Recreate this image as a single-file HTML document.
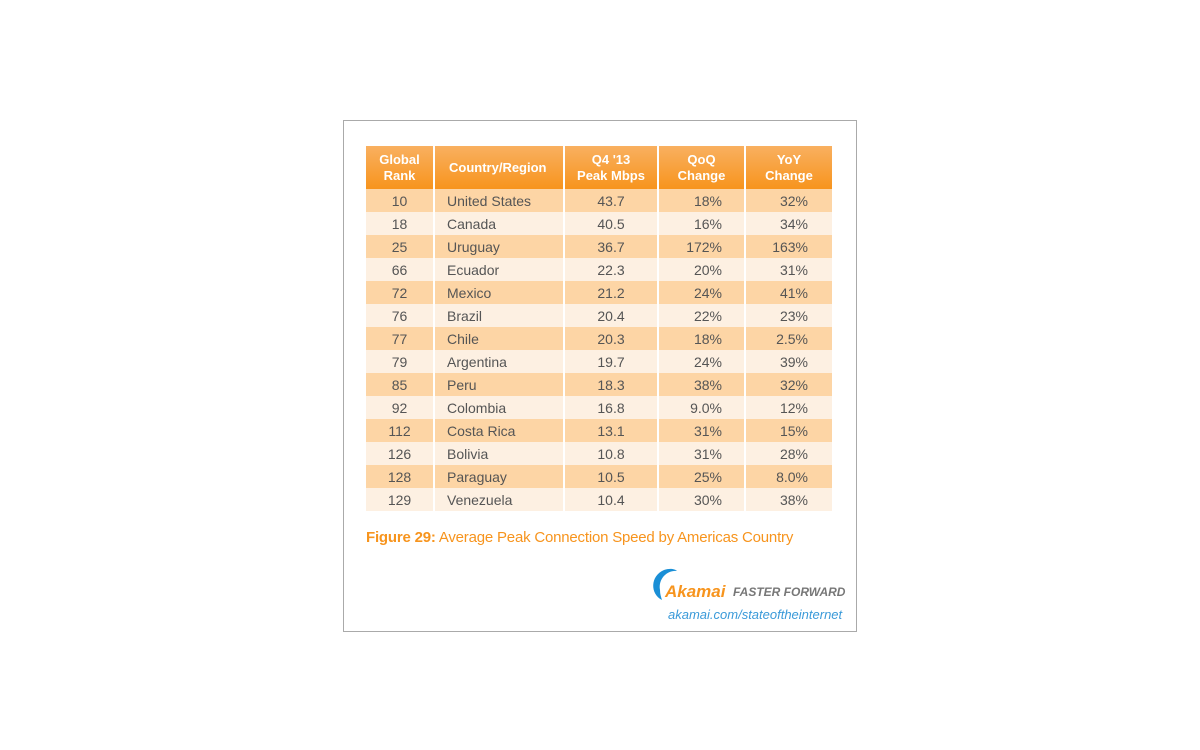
<!DOCTYPE html>
<html><head><style>
body{margin:0;width:1200px;height:750px;background:#fff;position:relative;font-family:"Liberation Sans",sans-serif;}
.frame{position:absolute;left:343px;top:120px;width:512px;height:510px;border:1px solid #aaa;}
table{position:absolute;left:366px;top:146px;border-collapse:collapse;table-layout:fixed;width:466px;}
td,th{padding:0;height:23px;font-size:14px;color:#555;border-left:2px solid #fff;box-sizing:border-box;}
td:first-child,th:first-child{border-left:0;}
th{height:43px;color:#fff;font-weight:bold;font-size:13px;line-height:16px;background:linear-gradient(#f9b060,#f7941d);text-align:center;}
tr.o td{background:#fdd5a5;}
tr.e td{background:#fdf0e2;}
.c1{text-align:center;}
.c2{text-align:left;padding-left:12px;}
.c3{text-align:center;}
.c4{text-align:right;padding-right:22px;}
.c5{text-align:right;padding-right:24px;}
.cap{position:absolute;left:366px;top:529px;font-size:15px;color:#f7941d;letter-spacing:-0.2px;}
.logo{position:absolute;left:665px;top:582px;font-size:17px;font-weight:bold;font-style:italic;color:#f7941d;}
.ff{position:absolute;left:733px;top:585px;font-size:12px;font-weight:bold;font-style:italic;color:#777;}
.url{position:absolute;left:668px;top:607px;font-size:13px;font-style:italic;color:#3a9ad9;}
</style></head><body>
<div class="frame"></div>
<table>
<colgroup><col style="width:68px"><col style="width:130px"><col style="width:94px"><col style="width:87px"><col style="width:87px"></colgroup>
<tr><th class="c1">Global<br>Rank</th><th class="c2" style="text-align:left;padding-left:14px">Country/Region</th><th class="c3">Q4 '13<br>Peak Mbps</th><th style="text-align:center">QoQ<br>Change</th><th style="text-align:center">YoY<br>Change</th></tr>
<tr class="o"><td class="c1">10</td><td class="c2">United States</td><td class="c3">43.7</td><td class="c4">18%</td><td class="c5">32%</td></tr>
<tr class="e"><td class="c1">18</td><td class="c2">Canada</td><td class="c3">40.5</td><td class="c4">16%</td><td class="c5">34%</td></tr>
<tr class="o"><td class="c1">25</td><td class="c2">Uruguay</td><td class="c3">36.7</td><td class="c4">172%</td><td class="c5">163%</td></tr>
<tr class="e"><td class="c1">66</td><td class="c2">Ecuador</td><td class="c3">22.3</td><td class="c4">20%</td><td class="c5">31%</td></tr>
<tr class="o"><td class="c1">72</td><td class="c2">Mexico</td><td class="c3">21.2</td><td class="c4">24%</td><td class="c5">41%</td></tr>
<tr class="e"><td class="c1">76</td><td class="c2">Brazil</td><td class="c3">20.4</td><td class="c4">22%</td><td class="c5">23%</td></tr>
<tr class="o"><td class="c1">77</td><td class="c2">Chile</td><td class="c3">20.3</td><td class="c4">18%</td><td class="c5">2.5%</td></tr>
<tr class="e"><td class="c1">79</td><td class="c2">Argentina</td><td class="c3">19.7</td><td class="c4">24%</td><td class="c5">39%</td></tr>
<tr class="o"><td class="c1">85</td><td class="c2">Peru</td><td class="c3">18.3</td><td class="c4">38%</td><td class="c5">32%</td></tr>
<tr class="e"><td class="c1">92</td><td class="c2">Colombia</td><td class="c3">16.8</td><td class="c4">9.0%</td><td class="c5">12%</td></tr>
<tr class="o"><td class="c1">112</td><td class="c2">Costa Rica</td><td class="c3">13.1</td><td class="c4">31%</td><td class="c5">15%</td></tr>
<tr class="e"><td class="c1">126</td><td class="c2">Bolivia</td><td class="c3">10.8</td><td class="c4">31%</td><td class="c5">28%</td></tr>
<tr class="o"><td class="c1">128</td><td class="c2">Paraguay</td><td class="c3">10.5</td><td class="c4">25%</td><td class="c5">8.0%</td></tr>
<tr class="e"><td class="c1">129</td><td class="c2">Venezuela</td><td class="c3">10.4</td><td class="c4">30%</td><td class="c5">38%</td></tr>
</table>
<div class="cap"><b>Figure 29:</b> Average Peak Connection Speed by Americas Country</div>
<svg style="position:absolute;left:648px;top:566px" width="30" height="36"><path d="M14 34 C2 28 2 10 16 4 C22 2 27 3 29 5 C20 4 10 12 12 24 C12 28 13 31 14 34Z" fill="#1a8fd6"/></svg>
<div class="logo">Akamai</div>
<div class="ff">FASTER FORWARD</div>
<div class="url">akamai.com/stateoftheinternet</div>
</body></html>
